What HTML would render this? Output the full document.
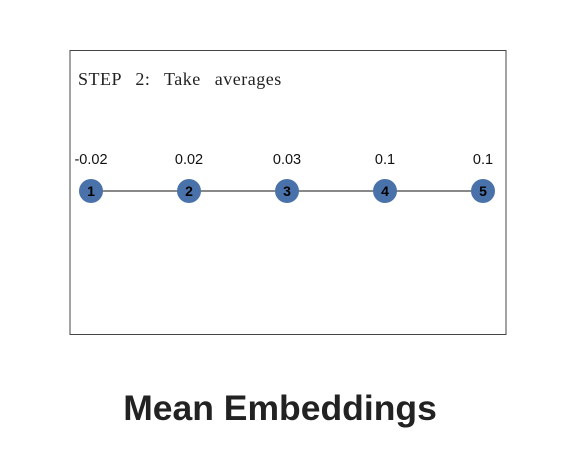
<!DOCTYPE html>
<html><head><meta charset="utf-8"><style>
body{margin:0;width:566px;height:448px;background:#fff;overflow:hidden}
</style></head><body>
<svg width="566" height="448">
<rect x="70" y="50.5" width="436" height="284" fill="#fff" stroke="#444" stroke-width="1"/>
<text x="78" y="85" font-family="Liberation Serif, serif" font-size="18" letter-spacing="0.5" word-spacing="9" fill="#222">STEP 2: Take averages</text>
<g id="g"></g>
<text x="280" y="420" text-anchor="middle" font-family="Liberation Sans, sans-serif" font-weight="bold" font-size="35.5" fill="#222">Mean Embeddings</text>
</svg>
<script>
const nodeIds=["1","2","3","4","5"];
const nodeValues=["-0.02","0.02","0.03","0.1","0.1"];
const ns="http://www.w3.org/2000/svg",g=document.getElementById("g");
const xs=i=>91+i*98, cy=191;
const line=document.createElementNS(ns,"line");
line.setAttribute("x1",xs(0));line.setAttribute("x2",xs(nodeIds.length-1));
line.setAttribute("y1",cy);line.setAttribute("y2",cy);line.setAttribute("stroke","#111");


g.appendChild(line);
nodeIds.forEach((id,i)=>{
 const c=document.createElementNS(ns,"circle");
 c.setAttribute("cx",xs(i));c.setAttribute("cy",cy);c.setAttribute("r",12);c.setAttribute("fill","#4a72aa");
 
 
 g.appendChild(c);
 const t=document.createElementNS(ns,"text");
 t.setAttribute("x",xs(i));t.setAttribute("y",cy+5);t.setAttribute("text-anchor","middle");
 t.setAttribute("font-family","Liberation Sans, sans-serif");t.setAttribute("font-weight","bold");t.setAttribute("font-size","14");
 t.textContent=id;
 
 
 g.appendChild(t);
 const v=document.createElementNS(ns,"text");
 v.setAttribute("x",xs(i));v.setAttribute("y",164);v.setAttribute("text-anchor","middle");
 v.setAttribute("font-family","Liberation Sans, sans-serif");v.setAttribute("font-size","14.5");v.setAttribute("fill","#111");
 v.textContent=nodeValues[i];
 
 
 g.appendChild(v);
});
</script>
</body></html>
